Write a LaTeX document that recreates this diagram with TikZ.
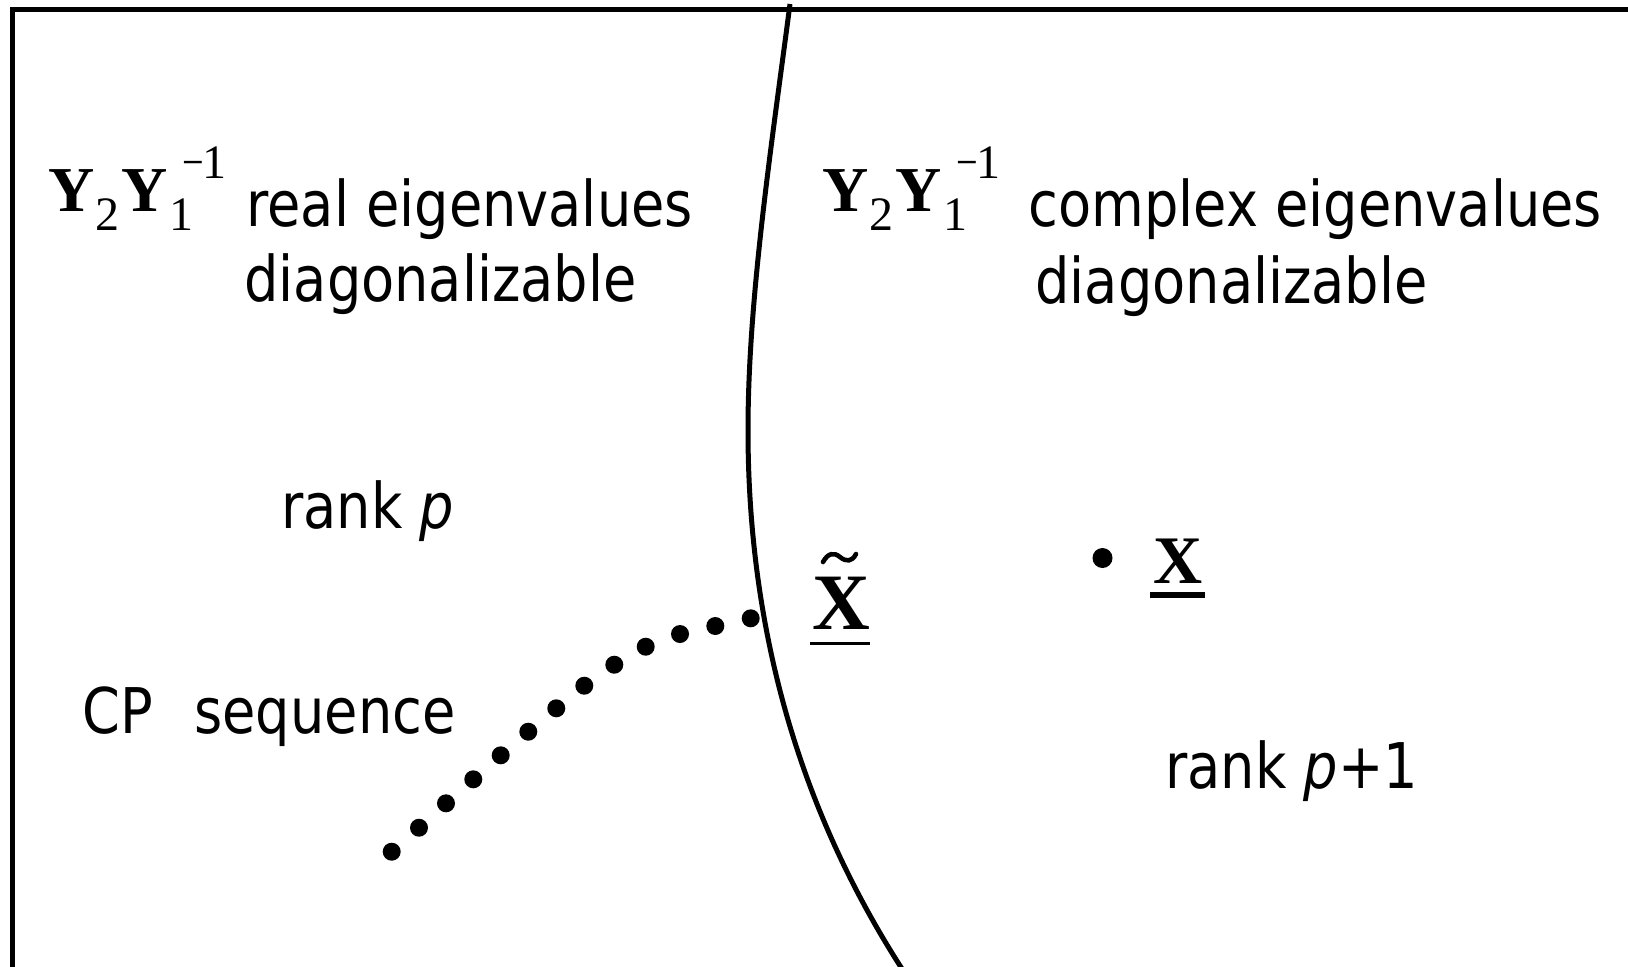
\documentclass[tikz,border=0pt]{standalone}
\usepackage{fontspec}
\setmainfont{DejaVu Sans}[FakeStretch=0.86]
\newfontfamily\serifm{Liberation Serif}
\begin{document}
\begin{tikzpicture}[x=0.5pt,y=-0.5pt,
  frame/.style={line width=2.5pt},
  boundary/.style={line width=2.5pt, line join=round},
  txt/.style={inner sep=0pt, anchor=base west, font=\fontsize{31.5pt}{38pt}\selectfont},
  bigY/.style={inner sep=0pt, anchor=base west, font=\serifm\bfseries\fontsize{32pt}{36pt}\selectfont},
  idx/.style={inner sep=0pt, anchor=base west, font=\serifm\fontsize{24pt}{28pt}\selectfont},
  seqdot/.style={fill=black},
]
\useasboundingbox (0,0) rectangle (1628,966);
\clip (0,0) rectangle (1628,966);

% frame (only left and top edges visible)
\draw[frame] (12.5,1000) -- (12.5,9) -- (1660,9);

% boundary curve
\draw[boundary] (790,4) .. controls (771,149) and (748,300) .. (748,430)
  .. controls (748,600) and (785,790) .. (906,975);

% left math label
\node[bigY] (ya) at (48,211) {Y};
\node[idx] (ya2) at (95,230.5) {2};
\node[bigY] (yb) at (121,211) {Y};
\node[idx] (yb1) at (169,230.5) {1};
\node[idx] (ybs) at (182,178.6) {\scalebox{0.8}[1]{−}\kern-1pt 1};

% right math label
\node[bigY] (za) at (822,211) {Y};
\node[idx] (za2) at (869,230.5) {2};
\node[bigY] (zb) at (895,211) {Y};
\node[idx] (zb1) at (943,230.5) {1};
\node[idx] (zbs) at (956,178.6) {\scalebox{0.8}[1]{−}\kern-1pt 1};

% texts
\node[txt] (lreal) at (246,226) {real eigenvalues};
\node[txt] (ldiag) at (244,301) {diagonalizable};
\node[txt] (rcomp) at (1028,226) {complex eigenvalues};
\node[txt] (rdiag) at (1035,303) {diagonalizable};
\node[txt] (rankp) at (281,528) {rank \textit{p}};
\node[txt] (cpseq) at (82,733) {CP\hspace{0.66em}sequence};
\node[txt] (rankq) at (1165,788) {rank \textit{p}+1};

% X tilde
\node[inner sep=0pt, anchor=base west, font=\serifm\bfseries\fontsize{40pt}{44pt}\selectfont] (xt) at (812,629.3) {X};
\draw[line width=2.3pt, line cap=round] (823,562) coordinate (til1)
  .. controls (828,553) and (834,552) .. (840,557)
  .. controls (846,562) and (852,562) .. (856,554) coordinate (til2);
\draw[line width=1.5pt] (810,643.3) coordinate (xtu1) -- (870,643.3) coordinate (xtu2);

% X
\node[inner sep=0pt, anchor=base west, font=\serifm\bfseries\fontsize{34pt}{38pt}\selectfont] (xx) at (1153,583.3) {X};
\draw[line width=3.3pt] (1150,595) coordinate (xu1) -- (1204.5,595) coordinate (xu2);
\fill[seqdot] (1102.5,558) circle[radius=5pt];

% CP sequence dots
\foreach \px/\py in {391.7/851.7, 419/827.7, 446/803.3, 473.3/779.3, 500.7/755.3,
  528.3/731.7, 556.3/708.3, 584.3/685.7, 614.3/664.7, 645.7/646.7, 680/634,
  715.3/626, 750.7/618.3}
  \fill[seqdot] (\px,\py) circle[radius=4.5pt];
\end{tikzpicture}
\end{document}
